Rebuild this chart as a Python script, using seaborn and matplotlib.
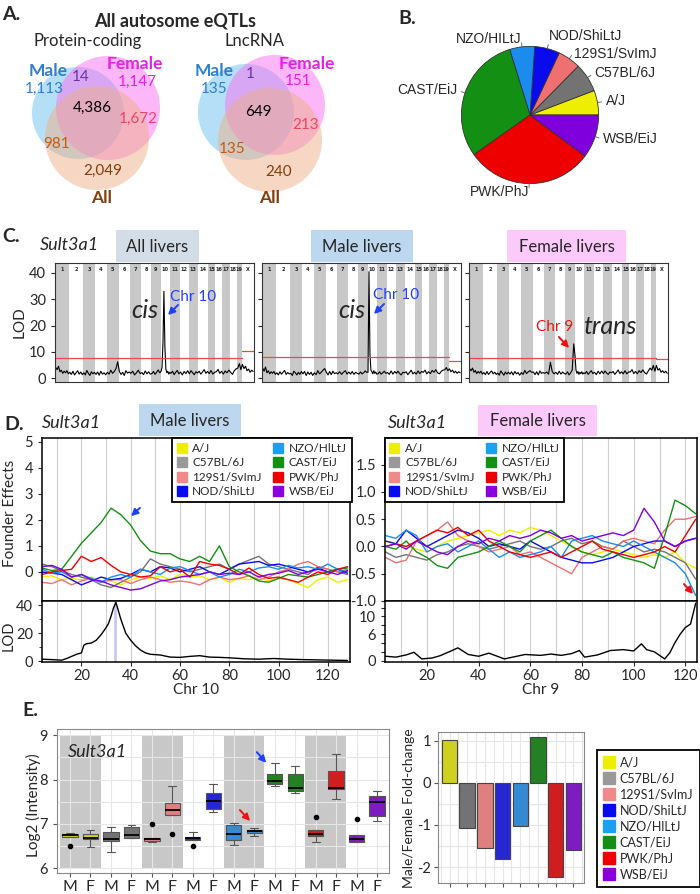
import matplotlib
matplotlib.use("Agg")
import matplotlib.pyplot as plt
from matplotlib.patches import Circle, Rectangle
from matplotlib.lines import Line2D
from matplotlib.ticker import MultipleLocator
import seaborn as sns
import pandas as pd
import numpy as np

W, H = 700, 894

# ---------------- data ----------------
strains = ["A/J", "C57BL/6J", "129S1/SvImJ", "NOD/ShiLtJ", "NZO/HlLtJ", "CAST/EiJ", "PWK/PhJ", "WSB/EiJ"]
strain_colors = ["#eeee00", "#737373", "#ee7070", "#0a0aee", "#1a8cee", "#139013", "#ee0000", "#8000dd"]
legend_colors = ["#eeee00", "#999999", "#f08a8a", "#0a0aee", "#1aa0ee", "#139013", "#ee0000", "#8a00dd"]

# A. Venn counts (region order: male only, male&female, female only, all three, female&all, male&all, all only)
pc_counts = [1113, 14, 1147, 4386, 1672, 981, 2049]
lnc_counts = [135, 1, 151, 649, 213, 135, 240]

# B. founder origin of eQTL (percent)
pie_strains = ["A/J", "C57BL/6J", "129S1/SvImJ", "NOD/ShiLtJ", "NZO/HILtJ", "CAST/EiJ", "PWK/PhJ", "WSB/EiJ"]
pie_share = [5.8, 6.8, 5.4, 5.9, 5.9, 30.0, 30.0, 10.2]

# C. genome scans
chrom_names = [str(i) for i in range(1, 20)] + ["X"]
chrom_len = [100, 100, 86, 81, 86, 81, 79, 72, 67, 69, 67, 64, 69, 72, 50, 50, 52, 52, 33, 88]
lod_all = [
    [4.0, 3.2, 4.5, 2.4, 3.0, 1.8, 2.6, 2.0, 2.8, 1.6],
    [2.2, 1.4, 2.6, 1.2, 2.0, 2.8, 1.5, 2.3, 1.3],
    [2.0, 1.2, 2.9, 1.8, 1.0, 2.4, 1.6, 2.2],
    [1.4, 2.3, 1.1, 2.6, 1.5, 2.0, 1.2],
    [2.2, 1.5, 3.0, 1.8, 2.5, 3.6, 6.2],
    [2.5, 1.4, 2.2, 1.0, 2.8, 1.9, 2.3],
    [1.8, 2.6, 1.2, 2.0, 3.0, 1.7],
    [2.1, 1.3, 2.7, 1.6, 2.4, 1.5],
    [1.7, 2.5, 1.4, 2.2, 3.1, 2.0],
    [2.5, 4.0, 13.0, 33.0, 12.0, 3.5, 2.0, 2.6, 1.5, 2.2],
    [1.8, 2.6, 1.3, 2.2, 2.9, 1.6],
    [2.3, 1.2, 2.5, 1.7, 2.8],
    [1.6, 2.8, 2.0, 1.3, 2.4, 1.9],
    [2.6, 1.5, 2.3, 3.2, 1.8, 2.5],
    [1.7, 2.9, 1.5, 2.2],
    [2.4, 3.3, 1.8, 2.6],
    [1.5, 2.7, 2.0, 3.0],
    [2.2, 1.4, 2.8, 3.5],
    [3.8, 5.5, 3.2],
    [5.2, 3.6, 4.5, 2.8, 3.4, 2.2, 3.0, 2.5],
]
lod_male = [
    [3.8, 2.6, 4.2, 2.0, 2.8, 1.6, 2.4, 1.8, 2.5, 1.4],
    [2.0, 1.2, 2.4, 1.5, 2.2, 2.9, 1.4, 2.1, 1.6],
    [1.8, 1.0, 2.6, 2.0, 1.2, 2.2, 1.4, 2.5],
    [1.6, 2.5, 1.0, 2.3, 1.4, 2.2, 1.0],
    [2.0, 1.3, 2.8, 1.6, 2.2, 3.0, 3.6],
    [2.2, 1.2, 2.5, 1.3, 2.6, 1.7, 2.0],
    [1.6, 2.4, 1.4, 2.2, 2.8, 1.5],
    [2.3, 1.5, 2.5, 1.4, 2.2, 1.8],
    [1.5, 2.3, 1.6, 2.0, 2.7, 2.2],
    [2.2, 40.5, 9.0, 3.0, 2.4, 1.6, 2.8, 1.8, 2.3, 1.5],
    [1.6, 2.4, 1.5, 2.0, 2.6, 1.8],
    [2.1, 1.4, 2.7, 1.5, 2.5],
    [1.8, 2.6, 1.7, 1.2, 2.2, 2.0],
    [2.4, 1.3, 2.1, 3.0, 1.6, 2.2],
    [1.5, 2.7, 1.7, 2.5],
    [2.2, 3.0, 1.6, 2.4],
    [1.7, 2.9, 2.2, 3.2],
    [2.0, 1.6, 2.6, 3.0],
    [3.2, 4.0, 2.8],
    [3.5, 2.4, 3.0, 2.0, 2.6, 1.8, 2.4, 2.0],
]
lod_female = [
    [3.5, 2.8, 3.8, 2.2, 2.9, 1.7, 2.5, 1.9, 2.6, 1.5],
    [2.1, 1.3, 2.5, 1.4, 2.1, 2.7, 1.6, 2.2, 1.4],
    [1.9, 1.1, 2.7, 1.9, 1.1, 2.3, 1.5, 2.3],
    [1.5, 2.4, 1.2, 2.5, 1.6, 2.1, 1.1],
    [2.1, 1.4, 2.9, 1.7, 2.4, 2.8, 2.2],
    [2.3, 1.3, 2.4, 1.2, 2.7, 1.8, 2.1],
    [1.8, 2.3, 1.5, 6.0, 2.4, 1.6],
    [2.2, 1.4, 2.6, 1.5, 2.3, 1.7],
    [1.5, 2.4, 1.2, 2.0, 3.0, 13.0],
    [8.5, 3.0, 1.8, 2.5, 1.4, 2.2, 1.7, 2.4, 1.5, 2.0],
    [1.7, 2.5, 1.4, 2.1, 2.8, 1.7],
    [2.2, 1.3, 2.6, 1.6, 2.7],
    [1.7, 2.7, 1.9, 1.4, 2.3, 2.0],
    [2.5, 1.4, 2.2, 3.1, 1.7, 2.4],
    [1.6, 2.8, 1.6, 2.3],
    [2.3, 3.2, 1.7, 2.5],
    [1.6, 2.8, 2.1, 3.1],
    [2.1, 1.5, 2.7, 3.8],
    [3.0, 4.8, 2.6],
    [4.8, 3.0, 3.6, 2.2, 2.8, 2.0, 2.6, 1.8],
]
thr_all = (7.6, 10.3)
thr_male = (8.0, 6.5)
thr_female = (7.6, 7.2)

# D. founder allele effects, Chr 10 (male) and Chr 9 (female)
pos_c10 = [4, 8, 12, 16, 20, 24, 28, 32, 36, 40, 44, 48, 52, 56, 60, 64,
           68, 72, 76, 80, 84, 88, 92, 96, 100, 104, 108, 112, 116, 120, 124, 128]
eff_c10 = {
    "A/J": [-0.2, -0.15, -0.3, -0.25, -0.3, -0.2, -0.4, -0.35, -0.5, -0.3, -0.2, -0.25, -0.15, -0.3, -0.1, -0.2,
            -0.15, -0.3, -0.2, -0.4, -0.25, -0.3, -0.2, -0.35, -0.25, -0.3, -0.45, -0.6, -0.3, -0.2, -0.4, -0.3],
    "C57BL/6J": [0.3, 0.2, 0.05, -0.1, -0.2, -0.3, -0.5, -0.6, -0.4, -0.2, 0.0, 0.5, 0.3, 0.2, 0.1, 0.0,
                 0.1, 0.2, 0.3, 0.1, 0.3, 0.45, 0.6, 0.3, 0.2, 0.1, 0.0, -0.1, 0.2, 0.1, 0.0, -0.1],
    "129S1/SvImJ": [-0.4, -0.45, -0.3, -0.5, -0.35, -0.25, -0.4, -0.3, -0.3, -0.45, -0.3, -0.2, -0.3, -0.4, -0.35, -0.4,
                    -0.5, -0.3, -0.2, -0.3, -0.25, -0.15, -0.3, -0.2, 0.0, 0.1, 0.3, 0.4, 0.2, 0.1, 0.0, 0.1],
    "NOD/ShiLtJ": [0.0, -0.05, -0.1, -0.3, -0.5, -0.35, -0.2, -0.3, -0.25, -0.1, 0.1, 0.0, 0.2, 0.15, 0.0, 0.1,
                   0.2, 0.0, -0.1, 0.1, 0.3, 0.35, 0.4, 0.25, 0.3, 0.2, 0.1, 0.0, 0.15, 0.0, 0.1, -0.05],
    "NZO/HlLtJ": [0.1, -0.05, 0.0, -0.2, -0.1, -0.25, -0.4, -0.2, -0.1, -0.2, 0.1, 0.0, -0.1, 0.15, 0.2, 0.05,
                  -0.1, 0.0, -0.2, -0.1, 0.1, 0.0, 0.15, 0.2, 0.1, 0.25, 0.15, 0.2, 0.1, 0.3, 0.1, 0.0],
    "CAST/EiJ": [0.15, 0.05, 0.1, 0.6, 1.1, 1.5, 1.9, 2.45, 2.2, 1.8, 1.2, 0.8, 0.7, 0.7, 0.5, 0.4,
                 0.6, 0.4, 1.0, 0.2, 0.0, -0.15, -0.35, -0.4, -0.25, -0.1, -0.15, -0.2, -0.1, 0.0, 0.1, 0.15],
    "PWK/PhJ": [-0.1, 0.0, 0.05, 0.1, 0.6, 0.4, 0.55, 0.25, 0.0, -0.1, -0.2, -0.15, 0.2, 0.0, 0.1, -0.2,
                0.4, 0.3, 0.25, 0.1, -0.1, 0.15, -0.1, -0.25, -0.2, -0.3, -0.4, -0.2, 0.0, -0.1, 0.1, 0.2],
    "WSB/EiJ": [0.2, 0.25, 0.1, -0.2, -0.1, -0.3, -0.35, -0.5, -0.6, -0.7, -0.65, -0.5, -0.35, -0.3, -0.2, -0.15,
                -0.1, 0.0, -0.1, -0.05, -0.1, 0.0, -0.2, -0.1, -0.05, 0.05, -0.1, 0.0, 0.1, 0.0, -0.1, 0.05],
}
lod_c10_pos = [4, 8, 12, 14, 16, 18, 20, 21, 22, 24, 26, 28, 30, 31, 32, 33, 34, 35, 36, 38, 40,
               42, 44, 46, 48, 52, 56, 60, 64, 68, 72, 76, 80, 86, 92, 98, 104, 110, 116, 122, 128]
lod_c10 = [1.5, 1.2, 0.8, 2.0, 3.5, 5.0, 6.0, 11.5, 12.5, 13.0, 15.0, 19.0, 24.0, 27.0, 32.0, 38.0, 42.0,
           36.0, 30.0, 20.0, 15.0, 11.0, 8.0, 6.0, 5.0, 4.5, 3.0, 2.8, 3.5, 4.0, 3.0, 2.8, 2.5, 1.8, 1.5,
           2.0, 1.5, 1.2, 1.0, 0.8, 0.6]

pos_c9 = [4, 8, 12, 16, 20, 24, 28, 32, 36, 40, 44, 48, 52, 56, 60, 64,
          68, 72, 76, 80, 84, 88, 92, 96, 100, 104, 108, 112, 116, 120, 124]
eff_c9 = {
    "A/J": [0.1, 0.05, 0.0, -0.05, -0.1, 0.0, 0.1, 0.15, 0.2, 0.25, 0.3, 0.2, 0.3, 0.25, 0.35, 0.3,
            0.2, 0.1, 0.0, -0.1, -0.15, -0.1, -0.05, -0.1, -0.15, -0.2, -0.15, -0.2, -0.1, -0.3, -0.4],
    "C57BL/6J": [-0.1, -0.2, -0.15, -0.2, -0.25, -0.15, -0.1, 0.0, 0.05, 0.0, -0.05, 0.0, 0.05, 0.1, 0.0, -0.05,
                 0.0, 0.1, 0.15, 0.05, 0.1, 0.0, -0.05, 0.1, 0.0, -0.1, -0.05, -0.1, -0.2, -0.3, -0.6],
    "129S1/SvImJ": [-0.2, -0.3, -0.25, 0.1, 0.2, 0.3, 0.45, 0.2, 0.1, 0.0, -0.1, -0.05, 0.0, -0.15, -0.1, -0.2,
                    -0.3, -0.4, -0.5, -0.2, -0.1, 0.0, -0.05, 0.1, 0.15, 0.1, 0.05, 0.3, 0.5, 0.5, 0.55],
    "NOD/ShiLtJ": [0.1, 0.05, 0.3, 0.15, 0.0, 0.1, 0.2, 0.3, 0.25, 0.15, 0.0, 0.05, 0.0, -0.05, 0.1, 0.0,
                   -0.1, -0.2, -0.25, -0.3, -0.3, -0.25, -0.2, -0.1, 0.0, 0.05, 0.1, 0.1, 0.0, 0.1, 0.15],
    "NZO/HlLtJ": [0.2, 0.15, 0.3, 0.2, -0.1, 0.0, 0.05, -0.1, 0.0, 0.1, -0.05, -0.2, -0.1, -0.2, -0.15, -0.1,
                  0.0, -0.2, 0.1, 0.15, 0.2, 0.1, 0.05, 0.0, 0.1, 0.0, -0.1, -0.2, -0.3, -0.5, -0.9],
    "CAST/EiJ": [0.0, -0.05, 0.1, -0.1, -0.2, -0.35, -0.4, -0.2, -0.15, -0.1, 0.0, 0.1, 0.0, -0.1, 0.1, 0.2,
                 0.3, 0.15, 0.0, -0.1, -0.15, -0.2, -0.1, -0.2, -0.25, -0.3, -0.4, 0.2, 0.85, 0.75, 0.6],
    "PWK/PhJ": [0.0, 0.05, 0.0, 0.1, 0.2, 0.3, 0.25, 0.35, 0.2, 0.3, 0.1, 0.0, -0.1, -0.15, -0.2, -0.15,
                -0.1, -0.2, -0.1, 0.0, 0.1, -0.05, -0.1, -0.15, -0.2, -0.15, -0.1, 0.0, -0.1, 0.2, 0.5],
    "WSB/EiJ": [0.0, 0.05, -0.05, 0.1, 0.0, -0.1, -0.15, 0.0, 0.1, 0.05, 0.15, 0.1, 0.2, 0.15, 0.2, 0.3,
                0.25, 0.15, 0.2, 0.1, 0.15, 0.2, 0.25, 0.2, 0.3, 0.7, 0.45, 0.1, 0.0, 0.1, 0.15],
}
lod_c9_pos = [4, 8, 12, 15, 18, 22, 25, 29, 32, 36, 40, 44, 50, 54, 58, 64, 68, 72, 76, 79, 81, 86,
              91, 96, 100, 103, 105, 108, 112, 114, 116, 118, 120, 122, 124]
lod_c9 = [1.0, 0.8, 1.3, 1.9, 0.4, 0.6, 1.1, 2.1, 2.9, 1.4, 1.0, 1.7, 0.4, 0.9, 1.4, 1.2, 1.5, 1.2, 1.6,
          2.3, 0.8, 1.3, 2.3, 2.5, 2.2, 3.8, 2.5, 2.0, 0.4, 1.8, 4.1, 6.0, 7.5, 8.3, 13.0]

# E. expression (log2 intensity) per strain and sex
expr_M = [
    [6.50, 6.70, 6.71, 6.73, 6.745, 6.76, 6.78, 6.79, 6.80],
    [6.37, 6.50, 6.61, 6.63, 6.65, 6.72, 6.81, 6.88, 6.93],
    [6.58, 6.60, 6.62, 6.64, 6.65, 6.66, 6.68, 6.68, 6.99],
    [6.50, 6.63, 6.63, 6.65, 6.67, 6.69, 6.71, 6.76, 6.82],
    [6.53, 6.58, 6.63, 6.70, 6.78, 6.88, 6.97, 6.99, 7.01],
    [7.86, 7.88, 7.89, 7.93, 7.97, 8.05, 8.12, 8.25, 8.38],
    [6.59, 6.68, 6.73, 6.75, 6.76, 6.80, 6.86, 6.86, 7.16],
    [6.59, 6.59, 6.59, 6.62, 6.66, 6.70, 6.74, 6.74, 7.10],
]
expr_F = [
    [6.48, 6.60, 6.65, 6.66, 6.67, 6.72, 6.77, 6.82, 6.86],
    [6.67, 6.67, 6.67, 6.70, 6.745, 6.85, 6.92, 6.95, 6.98],
    [6.78, 7.20, 7.21, 7.26, 7.32, 7.40, 7.47, 7.60, 7.85],
    [7.26, 7.30, 7.33, 7.42, 7.51, 7.60, 7.69, 7.80, 7.89],
    [6.72, 6.77, 6.80, 6.82, 6.83, 6.85, 6.86, 6.88, 6.91],
    [7.70, 7.72, 7.75, 7.78, 7.81, 7.95, 8.12, 8.20, 8.30],
    [7.57, 7.70, 7.78, 7.80, 7.81, 8.00, 8.19, 8.40, 8.57],
    [7.07, 7.12, 7.17, 7.35, 7.49, 7.56, 7.63, 7.70, 7.74],
]
fold_change = [1.02, -1.08, -1.55, -1.8, -1.02, 1.1, -2.23, -1.6]

# ---------------- figure ----------------
sns.set_style("white")
plt.rcParams["font.family"] = ["Lato", "DejaVu Sans"]
plt.rcParams["axes.linewidth"] = 0.8
plt.rcParams["axes.unicode_minus"] = False

fig = plt.figure(figsize=(W / 100, H / 100), dpi=100)


def fax(x0, y0, x1, y1, **kw):
    return fig.add_axes([x0 / W, 1 - y1 / H, (x1 - x0) / W, (y1 - y0) / H], **kw)


ov = fax(0, 0, W, H, zorder=20)
ov.set_xlim(0, W)
ov.set_ylim(H, 0)
ov.axis("off")


def label_box(x0, y0, x1, y1, text, color):
    ov.add_patch(Rectangle((x0, y0), x1 - x0, y1 - y0, color=color, lw=0))
    ov.text((x0 + x1) / 2, (y0 + y1) / 2 + 1, text, ha="center", va="center", fontsize=12)


def arrow(x0, y0, x1, y1, color):
    ov.annotate("", xy=(x1, y1), xytext=(x0, y0),
                arrowprops=dict(arrowstyle="-|>", color=color, lw=1.4, mutation_scale=10))


# ---- A: Venn diagrams ----
ov.text(2, 14, "A.", fontsize=14, fontweight="bold", va="center")
ov.text(175, 21, "All autosome eQTLs", fontsize=13, fontweight="bold", ha="center", va="center")
ov.text(88, 41, "Protein-coding", fontsize=12, ha="center", va="center")
ov.text(255, 41, "LncRNA", fontsize=12, ha="center", va="center")

region_colors = ["#2e7fd0", "#7030a0", "#e61ee6", "black", "#ee4466", "#c55a11", "#843c0c"]
venns = [
    (pc_counts, [(78, 113, 46), (108, 108, 52), (97, 138, 52)],
     [(44, 89), (81, 77), (137, 82), (92, 108), (138, 119), (57, 144), (103, 171)], (48, 71, 135, 64, 102, 198)),
    (lnc_counts, [(246, 112, 48), (275, 105, 50), (270, 140, 52)],
     [(214, 89), (250, 74), (298, 81), (258, 112), (306, 125), (232, 149), (279, 172)], (214, 71, 307, 64, 270, 198)),
]
for counts, circles, tpos, names in venns:
    for (cx, cy, r), col in zip(circles, ["#6cc0ee", "#fa70f2", "#eeb088"]):
        ov.add_patch(Circle((cx, cy), r, facecolor=col, alpha=0.5, lw=0))
    for v, (x, y), col in zip(counts, tpos, region_colors):
        ov.text(x, y, f"{v:,}", color=col, fontsize=11, ha="center", va="center")
    ov.text(names[0], names[1], "Male", color="#2e7fd0", fontsize=12.5, fontweight="bold", ha="center", va="center")
    ov.text(names[2], names[3], "Female", color="#e61ee6", fontsize=12.5, fontweight="bold", ha="center", va="center")
    ov.text(names[4], names[5], "All", color="#843c0c", fontsize=12.5, fontweight="bold", ha="center", va="center")

# ---- B: pie ----
ov.text(398, 19, "B.", fontsize=14, fontweight="bold", va="center")
axp = fax(460, 45, 600, 185)
wedges, texts = axp.pie(pie_share, colors=strain_colors, startangle=0, counterclock=True,
                        labels=pie_strains, labeldistance=1.12,
                        wedgeprops=dict(edgecolor="#333333", linewidth=0.6),
                        textprops=dict(fontsize=10, family="Liberation Sans"))
for t in texts:
    t.set_va("center")
for w in wedges:
    a = np.deg2rad((w.theta1 + w.theta2) / 2)
    axp.plot([np.cos(a), 1.06 * np.cos(a)], [np.sin(a), 1.06 * np.sin(a)], color="#555555", lw=0.6, clip_on=False)
texts[3].set_y(texts[3].get_position()[1] + 0.06)
texts[2].set_y(texts[2].get_position()[1] - 0.03)
axp.set_xlim(-1.02, 1.02)
axp.set_ylim(-1.02, 1.02)

# ---- C: genome scans ----
ov.text(2, 237, "C.", fontsize=14, fontweight="bold", va="center")
ov.text(40, 245, "Sult3a1", fontsize=13, fontstyle="italic", va="center")
label_box(116, 230, 199, 262, "All livers", "#d3dde8")
label_box(311, 230, 413, 262, "Male livers", "#bdd7ee")
label_box(507, 230, 626, 262, "Female livers", "#fbc9fa")

offs = [0]
for L in chrom_len:
    offs.append(offs[-1] + L)


def genome_scan(ax, lod, thr, show_labels):
    xs, ys = [], []
    for c, vals in enumerate(lod):
        for i, v in enumerate(vals):
            xs.append(offs[c] + (i + 0.5) / len(vals) * chrom_len[c])
            ys.append(v)
    for c in range(0, len(chrom_len), 2):
        ax.axvspan(offs[c], offs[c + 1], color="#c8c8c8", lw=0, zorder=0)
    for c, name in enumerate(chrom_names):
        ax.text((offs[c] + offs[c + 1]) / 2, 41.3, name, ha="center", va="center",
                fontsize=3.6, fontweight="bold", family="DejaVu Sans")
    sns.lineplot(x=xs, y=ys, ax=ax, color="black", lw=0.8, estimator=None, sort=False)
    ax.plot([0, offs[-2]], [thr[0]] * 2, color="#f04848", lw=0.9)
    ax.plot([offs[-2], offs[-1]], [thr[1]] * 2, color="#f04848", lw=0.9)
    ax.set_xlim(0, offs[-1])
    ax.set_ylim(-1.5, 43.8)
    ax.set_xticks([])
    ax.set_yticks([0, 10, 20, 30, 40])
    ax.tick_params(axis="y", length=3, labelsize=10.5, left=True, labelleft=show_labels)
    for s in ax.spines.values():
        s.set_color("#333333")


axc1 = fax(55, 263, 254, 382)
genome_scan(axc1, lod_all, thr_all, True)
axc1.set_ylabel("LOD", fontsize=11, labelpad=2)
axc2 = fax(262, 263, 461, 382)
genome_scan(axc2, lod_male, thr_male, False)
axc3 = fax(469, 263, 668, 382)
genome_scan(axc3, lod_female, thr_female, False)

ov.text(145, 310, "cis", fontsize=18, fontstyle="italic", ha="center", va="center")
ov.text(193, 297, "Chr 10", fontsize=11, color="#2040ff", ha="center", va="center")
arrow(180, 303, 166, 317, "#2040ff")
ov.text(352, 310, "cis", fontsize=18, fontstyle="italic", ha="center", va="center")
ov.text(396, 295, "Chr 10", fontsize=11, color="#2040ff", ha="center", va="center")
arrow(386, 302, 372, 316, "#2040ff")
ov.text(555, 327, "Chr 9", fontsize=11, color="#f01010", ha="center", va="center")
ov.text(610, 327, "trans", fontsize=18, fontstyle="italic", ha="center", va="center")
arrow(557, 335, 571, 350, "#f01010")

# ---- D: founder effects ----
ov.text(4, 425, "D.", fontsize=14, fontweight="bold", va="center")
ov.text(42, 423, "Sult3a1", fontsize=13, fontstyle="italic", va="center")
label_box(139, 404, 241, 436, "Male livers", "#bdd7ee")
ov.text(388, 423, "Sult3a1", fontsize=13, fontstyle="italic", va="center")
label_box(478, 405, 597, 436, "Female livers", "#fbc9fa")

palette = dict(zip(strains, strain_colors))
handles_d = [Line2D([], [], ls="none", marker="s", markersize=7, color=c, label=s)
             for s, c in zip(strains, legend_colors)]


def effects_panel(ax, pos, eff, xlim, legend_kw):
    df = pd.DataFrame([(p, v, s) for s in strains for p, v in zip(pos, eff[s])],
                      columns=["pos", "effect", "strain"])
    sns.lineplot(data=df, x="pos", y="effect", hue="strain", hue_order=strains, palette=palette,
                 estimator=None, legend=False, lw=1.0, ax=ax)
    ax.set_xlim(*xlim)
    ax.xaxis.set_major_locator(MultipleLocator(20))
    ax.xaxis.set_minor_locator(MultipleLocator(10))
    ax.grid(axis="x", which="both", color="#cfcfcf", lw=0.8)
    ax.set_axisbelow(True)
    ax.tick_params(axis="x", which="both", bottom=False, labelbottom=False)
    ax.tick_params(axis="y", length=3, labelsize=10.5, left=True)
    ax.set_xlabel("")
    ax.set_ylabel("")
    for s in ax.spines.values():
        s.set_color("black")
        s.set_linewidth(1.1)
    leg = ax.legend(handles=handles_d, ncol=2, fontsize=8.5, handlelength=0.8, handletextpad=0.5,
                    columnspacing=1.0, labelspacing=0.3, borderaxespad=0, fancybox=False,
                    edgecolor="black", framealpha=1, **legend_kw)
    leg.get_frame().set_linewidth(1.3)


def lod_panel(ax, pos, lod, xlim, xlabel):
    sns.lineplot(x=pos, y=lod, color="black", lw=1.0, estimator=None, ax=ax)
    ax.set_xlim(*xlim)
    ax.xaxis.set_major_locator(MultipleLocator(20))
    ax.xaxis.set_minor_locator(MultipleLocator(10))
    ax.grid(axis="x", which="both", color="#cfcfcf", lw=0.8)
    ax.set_axisbelow(True)
    ax.tick_params(axis="x", which="major", length=3, labelsize=10.5, bottom=True, pad=2)
    ax.tick_params(axis="x", which="minor", bottom=False)
    ax.tick_params(axis="y", length=3, labelsize=10.5, left=True)
    ax.set_xlabel(xlabel, fontsize=11, labelpad=0)
    for s in ax.spines.values():
        s.set_color("black")
        s.set_linewidth(1.1)


axd1 = fax(42, 438, 350, 601)
effects_panel(axd1, pos_c10, eff_c10, (4, 129), dict(loc="upper right", bbox_to_anchor=(1.005, 1.0)))
axd1.set_ylim(-1.12, 5.15)
axd1.set_yticks([0, 1, 2, 3, 4, 5])
axd2 = fax(42, 601, 350, 662)
axd2.axvline(33.5, color="#c8c8f4", lw=2, zorder=1)
lod_panel(axd2, lod_c10_pos, lod_c10, (4, 129), "Chr 10")
axd2.set_ylim(-0.5, 43)
axd2.set_yticks([0, 20, 40])
axd2.set_yticks([10, 30], minor=True)
axd2.tick_params(axis="y", which="minor", length=2, left=True)

axd3 = fax(385, 438, 697, 601)
effects_panel(axd3, pos_c9, eff_c9, (3.8, 124.5), dict(loc="upper left", bbox_to_anchor=(0.0, 1.0)))
axd3.set_ylim(-1.0, 1.99)
axd3.set_yticks([-1.0, -0.5, 0.0, 0.5, 1.0, 1.5])
axd3.set_yticklabels(["-1.0", "-0.5", "0.0", "0.5", "1.0", "1.5"])
axd4 = fax(385, 601, 697, 662)
lod_panel(axd4, lod_c9_pos, lod_c9, (3.8, 124.5), "Chr 9")
axd4.set_ylim(-0.3, 13.5)
axd4.set_yticks([0, 2, 4, 6, 8, 10, 12])
axd4.set_yticklabels(["0", "", "", "6", "", "10", ""])

ov.text(10, 513, "Founder Effects", fontsize=11, rotation=90, ha="center", va="center")
ov.text(9, 636, "LOD", fontsize=10.5, rotation=90, ha="center", va="center")
arrow(142, 506, 129, 518, "#2040ff")
arrow(682, 582, 695, 596, "#f01010")

# ---- E: expression boxes and fold change ----
ov.text(22, 711, "E.", fontsize=14, fontweight="bold", va="center")

order = [f"{s} {sex}" for s in strains for sex in ("M", "F")]
rows = []
for s, m_vals, f_vals in zip(strains, expr_M, expr_F):
    rows += [(f"{s} M", s, v) for v in m_vals]
    rows += [(f"{s} F", s, v) for v in f_vals]
df_e = pd.DataFrame(rows, columns=["group", "strain", "value"])

axe1 = fax(57, 729, 389, 873)
for k in range(0, 8, 2):
    axe1.add_patch(Rectangle((2 * k - 0.5, 6), 2, 3, color="#c8c8c8", lw=0, zorder=0.5))
sns.boxplot(data=df_e, x="group", y="value", hue="strain", order=order, hue_order=strains,
            palette=palette, dodge=False, width=0.75, linecolor="#555555", linewidth=0.8,
            fliersize=3, flierprops=dict(marker="o", markerfacecolor="black", markeredgecolor="black"),
            medianprops=dict(color="black", linewidth=1.3), legend=False, ax=axe1)
axe1.set_xlim(-0.63, 15.58)
axe1.set_ylim(5.89, 9.14)
axe1.set_yticks([6, 7, 8, 9])
axe1.set_yticks([6.5, 7.5, 8.5], minor=True)
axe1.set_xticks(range(16))
axe1.set_xticklabels(["M", "F"] * 8)
axe1.grid(True, which="both", color="#e6e6e6", lw=0.8)
axe1.set_axisbelow(True)
axe1.tick_params(axis="x", length=3, labelsize=11.5, bottom=True, color="#555555", pad=2)
axe1.tick_params(axis="y", length=3, labelsize=10.5, left=True, color="#555555")
axe1.tick_params(axis="y", which="minor", left=False)
axe1.set_xlabel("")
axe1.set_ylabel("")
for s in axe1.spines.values():
    s.set_color("#888888")
ov.text(68, 752, "Sult3a1", fontsize=13, fontstyle="italic", va="center")
ov.text(33, 805, "Log2 (Intensity)", fontsize=11, rotation=90, ha="center", va="center")
arrow(255, 750, 268, 765, "#2040ff")
arrow(238, 808, 252, 823, "#f01010")

axe2 = fax(438, 732, 584, 883)
sns.barplot(x=strains, y=fold_change, hue=strains, order=strains, palette=palette, legend=False,
            width=0.88, edgecolor="#444444", linewidth=0.8, ax=axe2)
axe2.set_xlim(-0.65, 7.6)
axe2.set_ylim(-2.38, 1.21)
axe2.set_yticks([-2, -1, 0, 1])
axe2.set_yticks([-1.5, -0.5, 0.5], minor=True)
axe2.set_xticks(range(8))
axe2.set_xticks([i + 0.5 for i in range(-1, 8)], minor=True)
axe2.set_xticklabels([""] * 8)
axe2.grid(True, which="both", color="#e6e6e6", lw=0.8)
axe2.set_axisbelow(True)
axe2.tick_params(axis="x", which="major", length=3, bottom=True, color="#555555")
axe2.tick_params(axis="x", which="minor", bottom=False)
axe2.tick_params(axis="y", which="major", length=3, labelsize=10.5, left=True, color="#555555", pad=2)
axe2.tick_params(axis="y", which="minor", left=False)
for s in axe2.spines.values():
    s.set_color("#888888")
ov.text(409, 808, "Male/Female Fold-change", fontsize=10, rotation=90, ha="center", va="center")

leg_e = fig.legend(handles=[Line2D([], [], ls="none", marker="s", markersize=8, color=c, label=s)
                            for s, c in zip(strains, legend_colors)],
                   loc="upper left", bbox_to_anchor=(591 / W, 1 - 744 / H), fontsize=9,
                   handlelength=0.8, handletextpad=0.5, labelspacing=0.32, borderpad=0.5,
                   fancybox=False, edgecolor="black", framealpha=1)
leg_e.get_frame().set_linewidth(1.3)

fig.savefig("out.png", dpi=100)
